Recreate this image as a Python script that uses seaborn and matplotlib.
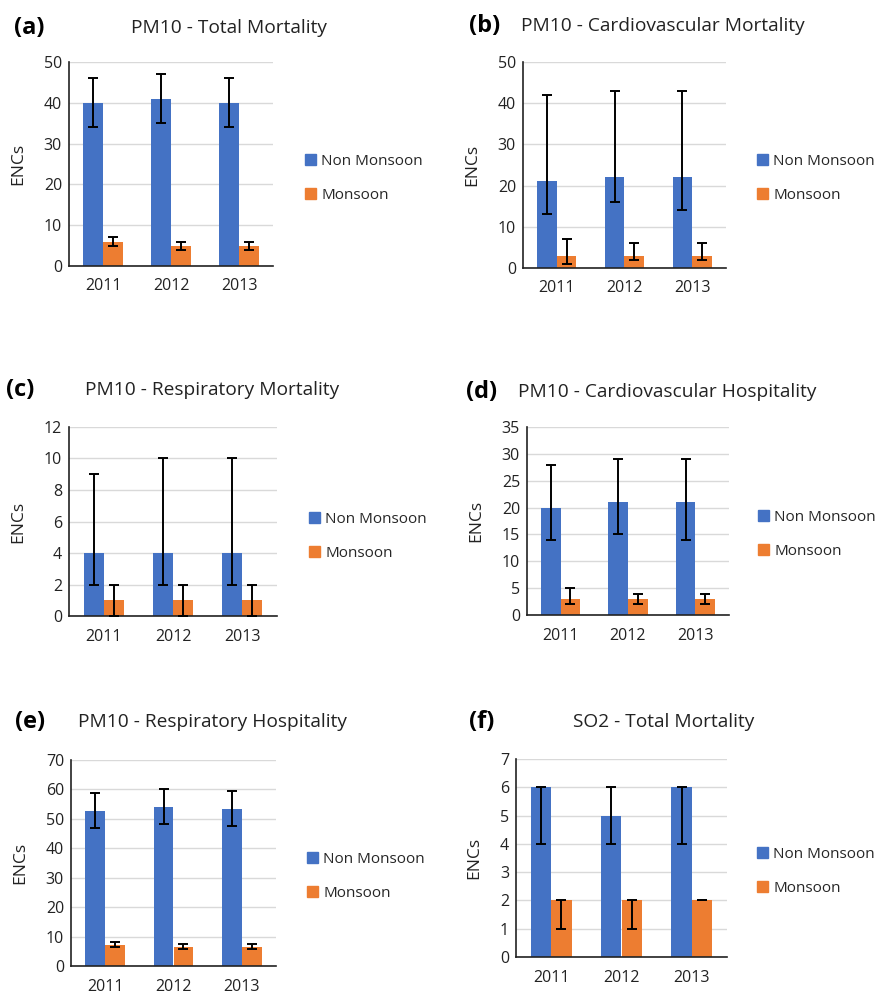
import numpy as np
import pandas as pd
import seaborn as sns
import matplotlib.pyplot as plt

years = ["2011", "2012", "2013"]
seasons = ["Non Monsoon", "Monsoon"]

# panel letter, title, y max, y step
panels = [
    ("(a)", "PM10 - Total Mortality", 50, 10),
    ("(b)", "PM10 - Cardiovascular Mortality", 50, 10),
    ("(c)", "PM10 - Respiratory Mortality", 12, 2),
    ("(d)", "PM10 - Cardiovascular Hospitality", 35, 5),
    ("(e)", "PM10 - Respiratory Hospitality", 70, 10),
    ("(f)", "SO2 - Total Mortality", 7, 1),
]

# values per panel: non monsoon / monsoon, with error bar low and high ends
nm_val = [[40, 41, 40], [21, 22, 22], [4, 4, 4], [20, 21, 21], [52.8, 54.0, 53.5], [6, 5, 6]]
nm_lo = [[34, 35, 34], [13, 16, 14], [2, 2, 2], [14, 15, 14], [46.8, 48.1, 47.5], [4, 4, 4]]
nm_hi = [[46, 47, 46], [42, 43, 43], [9, 10, 10], [28, 29, 29], [58.8, 60.1, 59.6], [6, 6, 6]]
m_val = [[6, 5, 5], [3, 3, 3], [1, 1, 1], [3, 3, 3], [7.2, 6.5, 6.5], [2, 2, 2]]
m_lo = [[5, 4, 4], [1, 2, 2], [0, 0, 0], [2, 2, 2], [6.5, 5.7, 5.7], [1, 1, 2]]
m_hi = [[7, 6, 6], [7, 6, 6], [2, 2, 2], [5, 4, 4], [8.3, 7.6, 7.6], [2, 2, 2]]

colors = {"Non Monsoon": "#4472C4", "Monsoon": "#ED7D31"}

sns.set_theme(style="white")
plt.rcParams["font.family"] = ["Open Sans", "DejaVu Sans"]

W, H = 877, 996
fig = plt.figure(figsize=(W / 100, H / 100), dpi=100)

# axes boxes in pixels: left, top, right, bottom
boxes = [(69, 62, 273, 266), (523, 62, 726, 268),
         (69, 427, 277, 616), (527, 427, 729, 615),
         (71, 760, 276, 966), (516, 759, 727, 957)]
# title centre, panel letter x, text y
titles = [(229, 14, 28), (663, 469, 26),
          (212, 6, 390), (667, 466, 392),
          (212, 15, 722), (664, 469, 722)]
legend_xy = [(305, 160), (757, 160), (309, 518), (758, 516), (307, 858), (757, 853)]

for i, (letter, title, ymax, ystep) in enumerate(panels):
    l, t, r, b = boxes[i]
    ax = fig.add_axes([l / W, 1 - b / H, (r - l) / W, (b - t) / H])
    df = pd.DataFrame({
        "year": years * 2,
        "season": ["Non Monsoon"] * 3 + ["Monsoon"] * 3,
        "value": nm_val[i] + m_val[i],
    })
    sns.barplot(data=df, x="year", y="value", hue="season", hue_order=seasons,
                palette=colors, width=0.58, saturation=1, ax=ax, legend=False,
                edgecolor="none")
    los = [nm_lo[i], m_lo[i]]
    his = [nm_hi[i], m_hi[i]]
    vals = [nm_val[i], m_val[i]]
    bar_groups = list(ax.containers)
    for k, cont in enumerate(bar_groups):
        xs = [p.get_x() + p.get_width() / 2 for p in cont]
        v = np.array(vals[k])
        err = [v - np.array(los[k]), np.array(his[k]) - v]
        ax.errorbar(xs, v, yerr=err, fmt="none", ecolor="black",
                    elinewidth=1.4, capsize=3.5, capthick=1.4, zorder=5)
    ax.set_ylim(0, ymax)
    ax.set_yticks(np.arange(0, ymax + ystep / 2, ystep))
    ax.set_xlim(-0.5, 2.5)
    ax.yaxis.grid(True, color="#D9D9D9", linewidth=1)
    ax.set_axisbelow(True)
    for s in ["top", "right"]:
        ax.spines[s].set_visible(False)
    for s in ["left", "bottom"]:
        ax.spines[s].set_color("#222222")
        ax.spines[s].set_linewidth(1.2)
    ax.tick_params(axis="both", length=0, labelsize=11.5, colors="#222222", pad=5)
    ax.tick_params(axis="x", pad=9)
    ax.set_xlabel("")
    ax.set_ylabel("ENCs", fontsize=12.5, color="#222222", labelpad=13)

    tx, lx, ty = titles[i]
    fig.text(tx / W, 1 - ty / H, title, ha="center", va="center", fontsize=13.8, color="#222222")
    fig.text(lx / W, 1 - ty / H, letter, ha="left", va="center", fontsize=17,
             fontweight="bold", color="black")

    lgx, lgy = legend_xy[i]
    handles = [plt.Rectangle((0, 0), 1, 1, color=colors[s]) for s in seasons]
    fig.legend(handles, seasons, loc="upper left",
               bbox_to_anchor=(lgx / W, 1 - (lgy - 6) / H), frameon=False,
               fontsize=11.0, handlelength=0.7, handleheight=0.7, handletextpad=0.35,
               labelspacing=1.25, borderpad=0, borderaxespad=0)

fig.savefig("out.png", dpi=100)
